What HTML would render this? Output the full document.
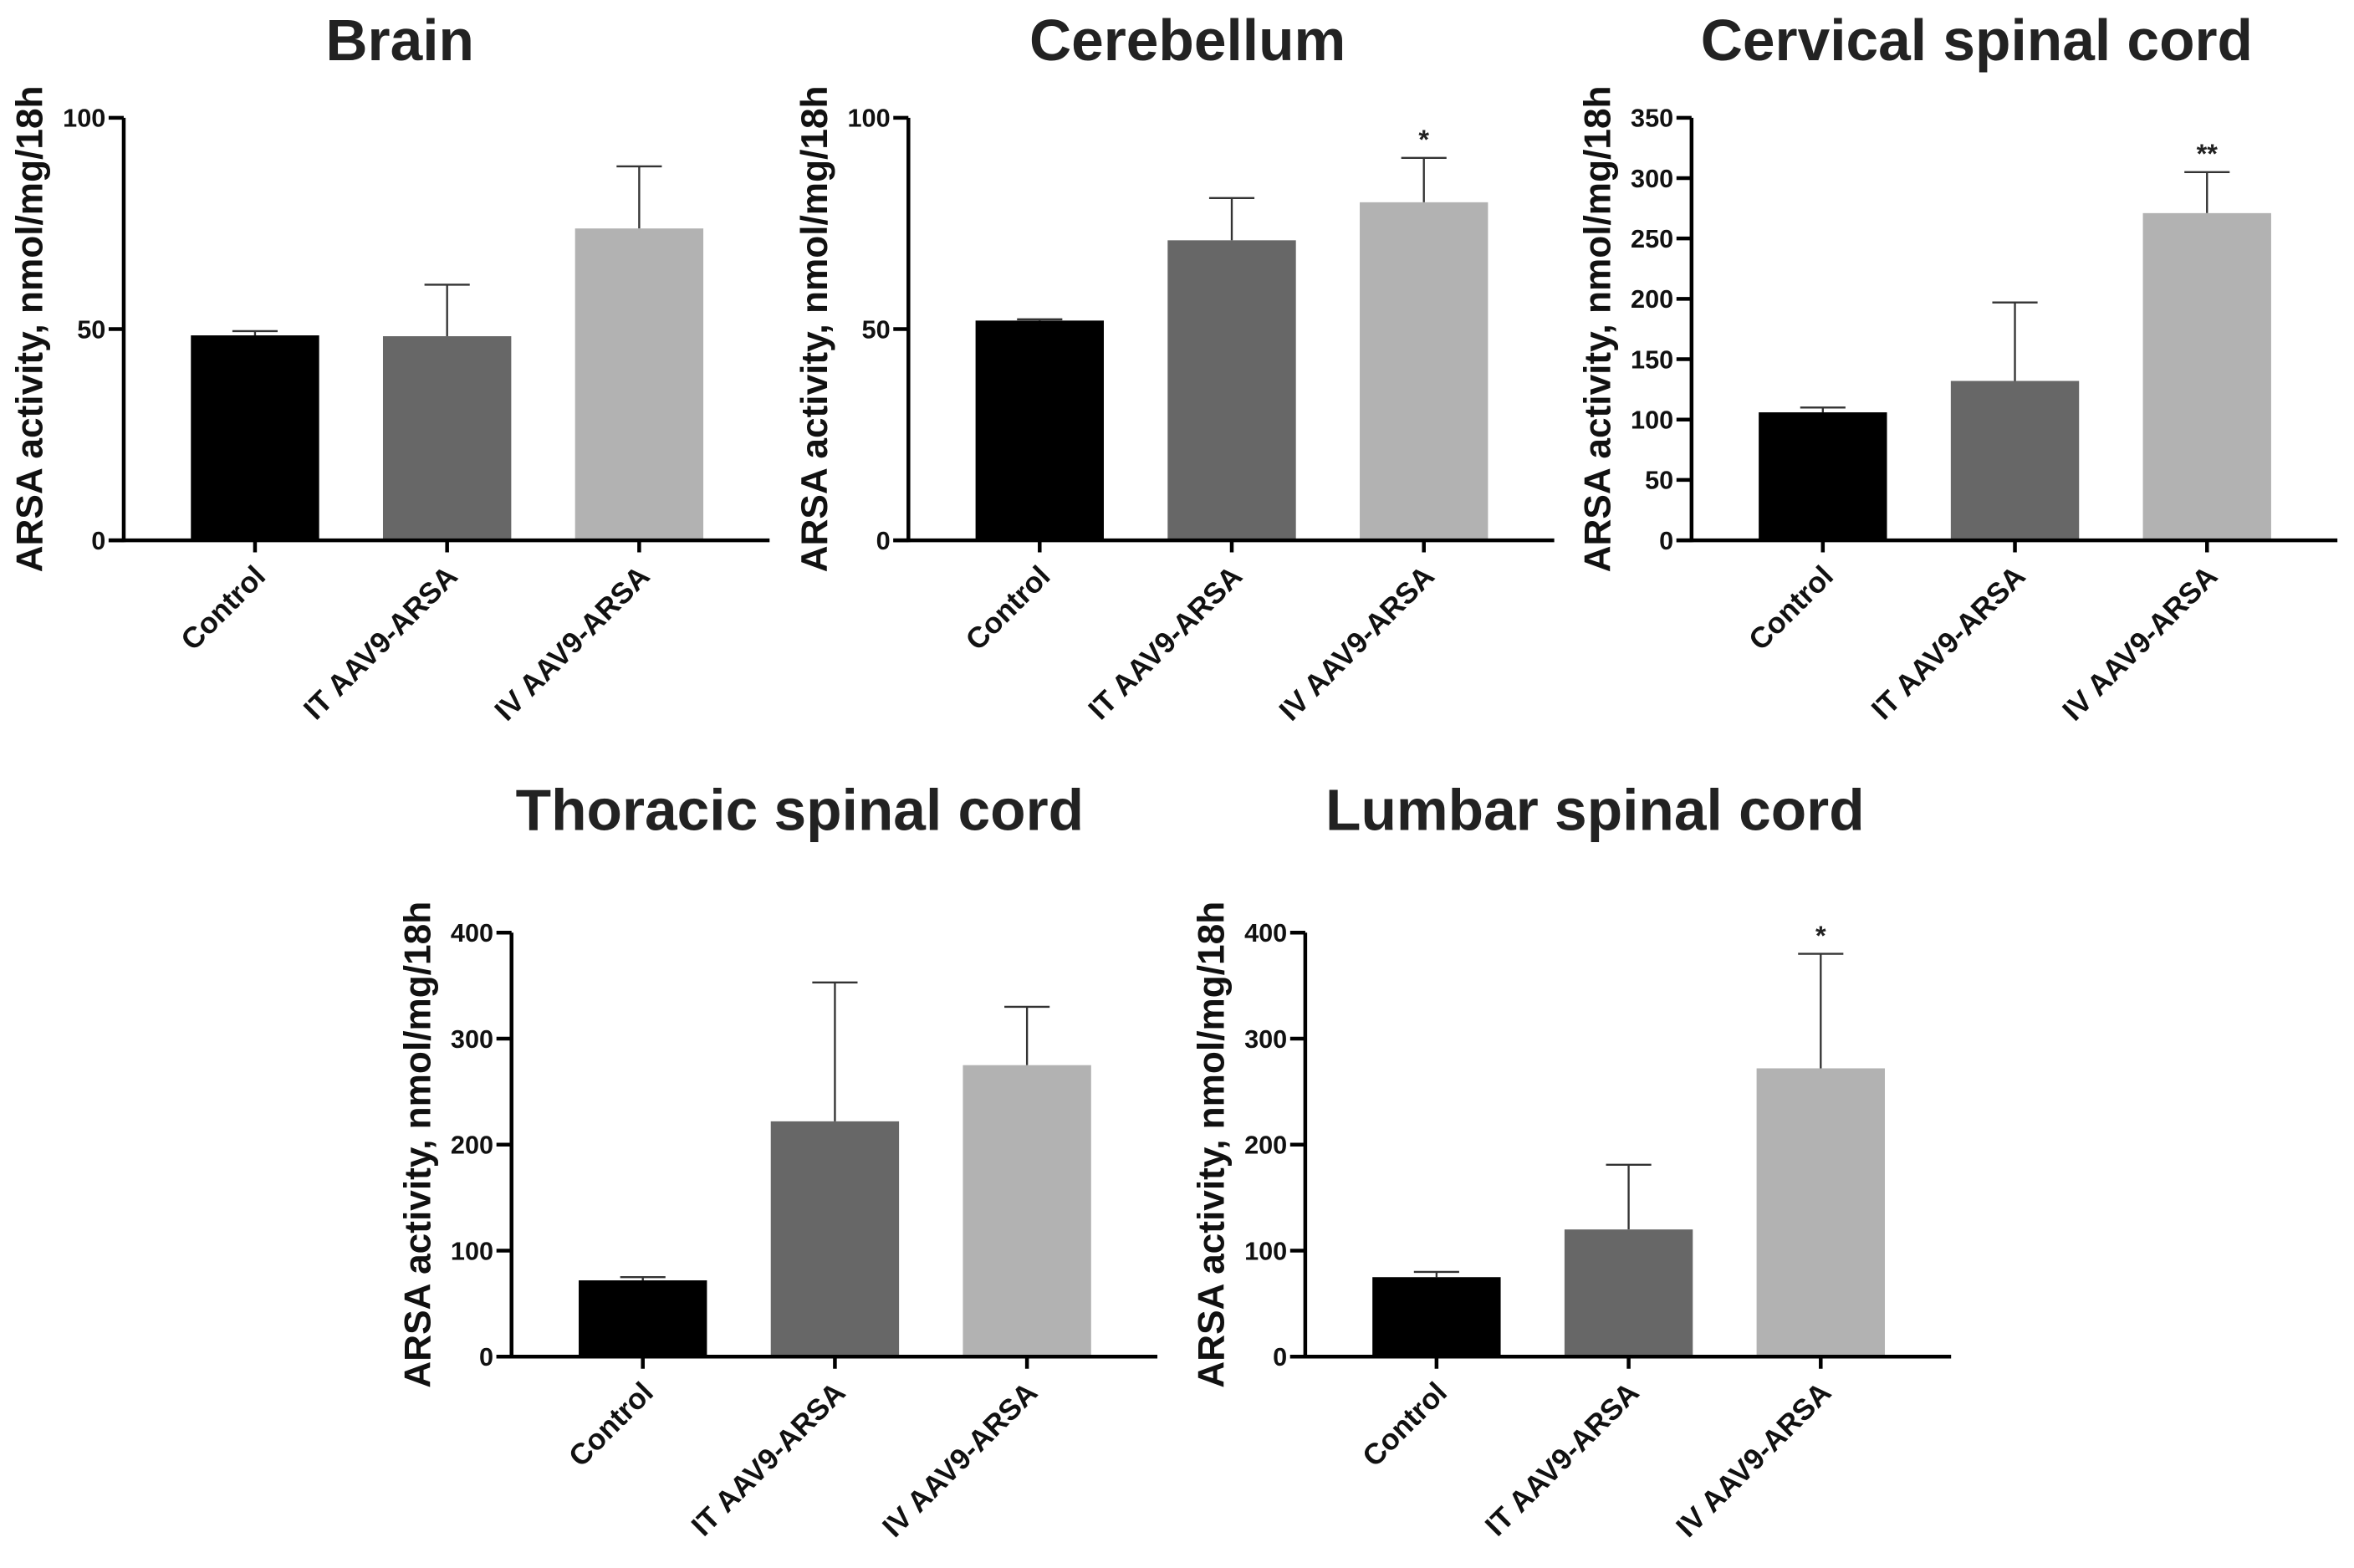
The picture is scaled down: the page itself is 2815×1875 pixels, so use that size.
<!DOCTYPE html>
<html><head><meta charset="utf-8"><style>
html,body{margin:0;padding:0;background:#fff;}
svg{display:block;}
text{font-family:"Liberation Sans",Arial,sans-serif;font-weight:bold;}
</style></head><body>
<svg id="fig" width="2815" height="1875" viewBox="0 0 1560 1039" xmlns="http://www.w3.org/2000/svg"></svg>
<script>
const categories = ["Control", "IT AAV9-ARSA", "IV  AAV9-ARSA"];
const barColors = ["#000000", "#676767", "#b2b2b2"];
const brainValues = [48.5, 48.3, 73.8];
const brainErrors = [49.5, 60.5, 88.5];
const brainTicks = [0, 50, 100];
const cerebellumValues = [52, 71, 80];
const cerebellumErrors = [52.3, 81, 90.5];
const cerebellumTicks = [0, 50, 100];
const cerebellumStars = ["", "", "*"];
const cervicalValues = [106, 132, 271];
const cervicalErrors = [110, 197, 305];
const cervicalTicks = [0, 50, 100, 150, 200, 250, 300, 350];
const cervicalStars = ["", "", "**"];
const thoracicValues = [72, 222, 275];
const thoracicErrors = [75, 353, 330];
const thoracicTicks = [0, 100, 200, 300, 400];
const lumbarValues = [75, 120, 272];
const lumbarErrors = [80, 181, 380];
const lumbarTicks = [0, 100, 200, 300, 400];
const lumbarStars = ["", "", "*"];

const NS = "http://www.w3.org/2000/svg";
const svg = document.getElementById("fig");
function mk(tag, attrs, parent, txt) {
  const e = document.createElementNS(NS, tag);
  for (const k in attrs) e.setAttribute(k, attrs[k]);
  if (txt !== undefined) e.textContent = txt;
  (parent || svg).appendChild(e);
  return e;
}
function panel(o) {
  const g = mk("g", {});
  
  
  const max = o.ticks[o.ticks.length - 1];
  const y = v => o.zero - (v / max) * (o.zero - o.top);
  const x = i => o.ax + 87 + i * 127.3;
  const t = mk("text", {x: o.tx, y: o.ty, "text-anchor": "middle", "font-size": 38.5, fill: "#222"}, g, o.title);
  
  
  const yl = mk("text", {x: 0, y: 0, "text-anchor": "middle", "font-size": 24.5, fill: "#111", transform: `translate(${o.ax - 54},${(o.top + o.zero) / 2}) rotate(-90)`}, g, "ARSA activity, nmol/mg/18h");
  
  
  for (let i = 0; i < 3; i++) {
    const v = o.values[i], e = o.errors[i], cx = x(i);
    mk("line", {x1: cx, x2: cx, y1: y(v), y2: y(e), stroke: "#333", "stroke-width": 1.3}, g);
    mk("line", {x1: cx - 15, x2: cx + 15, y1: y(e), y2: y(e), stroke: "#333", "stroke-width": 1.3}, g);
    const r = mk("rect", {x: cx - 42.5, y: y(v), width: 85, height: o.zero - y(v), fill: barColors[i]}, g);
    
    
    if (o.stars && o.stars[i]) {
      const s = mk("text", {x: cx, y: y(e) - 6, "text-anchor": "middle", "font-size": 18, "font-weight": "normal", fill: "#222"}, g, o.stars[i]);
      
      
    }
    mk("line", {x1: cx, x2: cx, y1: o.zero, y2: o.zero + 8, stroke: "#000", "stroke-width": 2.5}, g);
    const xl = mk("text", {x: 0, y: 0, "text-anchor": "end", "font-size": 19.5, fill: "#111", transform: `translate(${cx + 8},${o.zero + 25}) rotate(-45)`}, g, categories[i]);
    
    
  }
  mk("line", {x1: o.ax, x2: o.ax, y1: o.top, y2: o.zero + 1.2, stroke: "#000", "stroke-width": 2.5}, g);
  mk("line", {x1: o.ax - 10, x2: o.ax + 428, y1: o.zero, y2: o.zero, stroke: "#000", "stroke-width": 2.5}, g);
  o.ticks.forEach(tv => {
    mk("line", {x1: o.ax - 10, x2: o.ax, y1: y(tv), y2: y(tv), stroke: "#000", "stroke-width": 2.5}, g);
    const tl = mk("text", {x: o.ax - 12, y: y(tv) + 6, "text-anchor": "end", "font-size": 17, fill: "#111"}, g, tv);
    
    
  });
}
panel({name: "brain", title: "Brain", tx: 265, ty: 40, ax: 82, top: 78, zero: 358, values: brainValues, errors: brainErrors, ticks: brainTicks});
panel({name: "cerebellum", title: "Cerebellum", tx: 787, ty: 40, ax: 602, top: 78, zero: 358, values: cerebellumValues, errors: cerebellumErrors, ticks: cerebellumTicks, stars: cerebellumStars});
panel({name: "cervical", title: "Cervical spinal cord", tx: 1310, ty: 40, ax: 1121, top: 78, zero: 358, values: cervicalValues, errors: cervicalErrors, ticks: cervicalTicks, stars: cervicalStars});
panel({name: "thoracic", title: "Thoracic spinal cord", tx: 530, ty: 550, ax: 339, top: 618, zero: 899, values: thoracicValues, errors: thoracicErrors, ticks: thoracicTicks});
panel({name: "lumbar", title: "Lumbar spinal cord", tx: 1057, ty: 550, ax: 865, top: 618, zero: 899, values: lumbarValues, errors: lumbarErrors, ticks: lumbarTicks, stars: lumbarStars});
</script>
</body></html>
